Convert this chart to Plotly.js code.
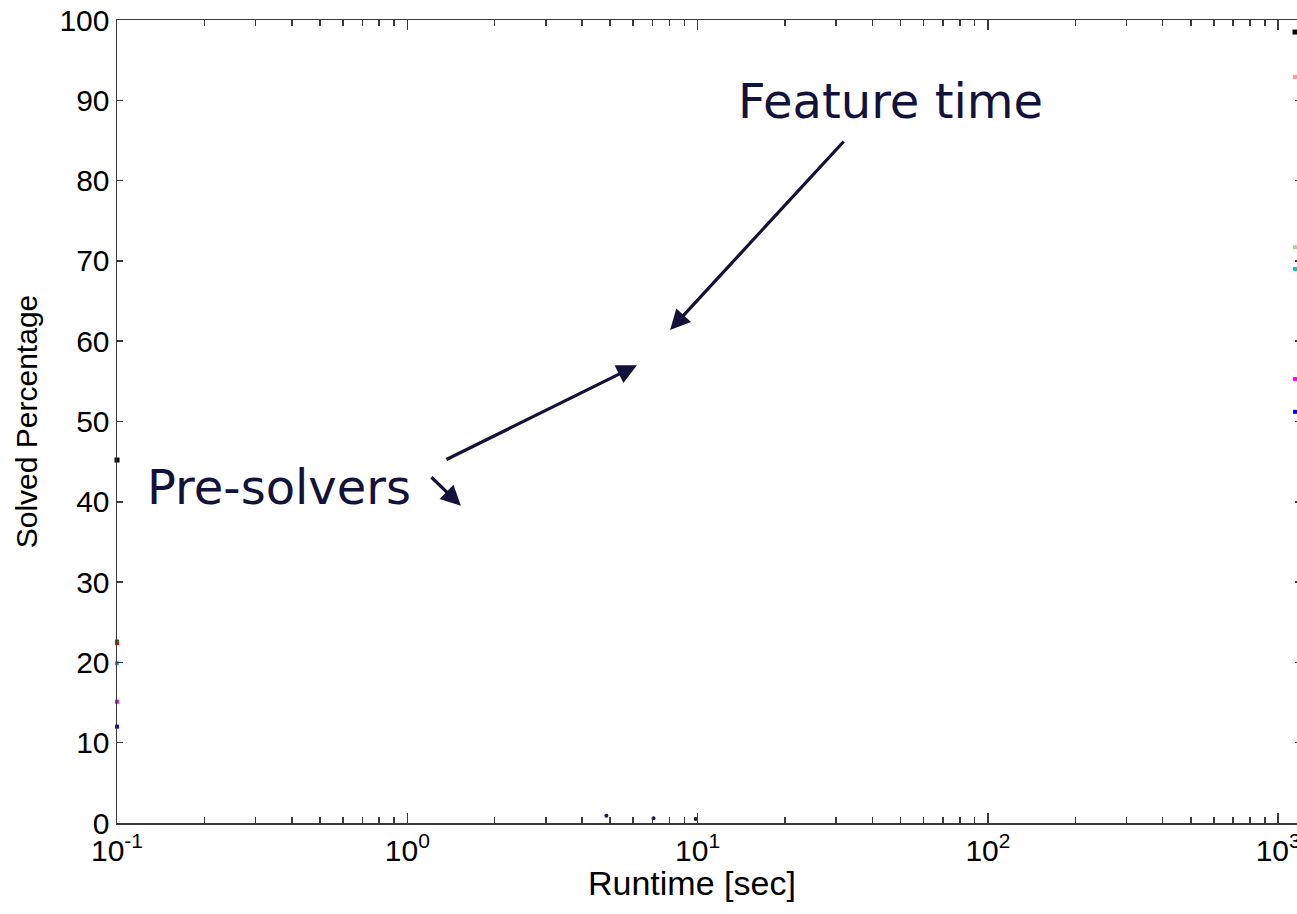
<!DOCTYPE html>
<html>
<head>
<meta charset="utf-8">
<script src="https://cdn.plot.ly/plotly-3.0.1.min.js"></script>
<style>
html,body{margin:0;padding:0;overflow:hidden;background:#fff;}
#chart{width:1306px;height:914px;}
</style>
</head>
<body>
<div id="chart"></div>
<script>
// ---- data ----
const seriesNames  = ["black", "green", "red", "cyan", "magenta", "blue", "pink", "lightgreen"];
const seriesColors = ["#000000", "#008000", "#ff0000", "#00c8c8", "#ff00ff", "#0000ff", "#ff9999", "#99d699"];
// value at the start of the runtime axis (0.1 s)
const startTime = 0.1;
const startValues = [45.2, 22.6, 22.4, 19.9, 15.1, 12.0, null, null];
// value at the end of the runtime axis (cut off at the right edge)
const endTime = 1143;
const endValues = [98.5, null, null, 69.0, 55.3, 51.2, 92.9, 71.7];

// small dark dots near the runtime axis
const bottomTimes  = [4.85, 7.05, 9.85];
const bottomUpper  = [0.9, 0.6, 0.5];
const bottomLower  = [-0.45, -0.6, -0.6];

// text labels: [label, x (sec), y (%)]
const featureLabel = ["Feature time", 46, 89.9];
const presolverLabel = ["Pre-solvers", 0.361, 41.8];
// arrows: head x (sec), head y (%), tail offset px (ax, ay)
const arrowHeadX = [8.04, 6.18, 1.53];
const arrowHeadY = [61.4, 57.0, 39.5];
const arrowAx = [175, -192, -31];
const arrowAy = [-190, 95, -30];

const yTicks = [0,10,20,30,40,50,60,70,80,90,100];
const xTickVals = [0.1, 1, 10, 100, 1000];
const xTickText = ["10<sup>-1</sup>", "10<sup>0</sup>", "10<sup>1</sup>", "10<sup>2</sup>", "10<sup>3</sup>"];
const xTitle = "Runtime [sec]";
const yTitle = "Solved Percentage";

const traces = [];
seriesNames.forEach((n, i) => {
  const xs = [], ys = [];
  if (startValues[i] !== null) { xs.push(startTime); ys.push(startValues[i]); }
  if (endValues[i] !== null) { xs.push(endTime); ys.push(endValues[i]); }
  traces.push({
    type: "scatter", mode: "markers", name: n, x: xs, y: ys,
    marker: {symbol: "square", size: i === 0 ? 5 : 4, color: seriesColors[i]},
    cliponaxis: false, hoverinfo: "skip"
  });
});
traces.push({
  type: "scatter", mode: "markers", name: "bottom",
  x: bottomTimes.concat(bottomTimes), y: bottomUpper.concat(bottomLower),
  marker: {symbol: "circle", size: 4, color: "#1a1a48"},
  cliponaxis: false, hoverinfo: "skip"
});

const navy = "#12123a";
const arial = "Liberation Sans, Arial, sans-serif";
const tickFont = {family: arial, size: 30, color: "#000"};
const annFont = {family: "DejaVu Sans, Verdana, sans-serif", size: 48, color: navy};

const annotations = [
  {x: Math.log10(featureLabel[1]), y: featureLabel[2], text: featureLabel[0], showarrow: false, xanchor: "center", yanchor: "middle", font: annFont},
  {x: Math.log10(presolverLabel[1]), y: presolverLabel[2], text: presolverLabel[0], showarrow: false, xanchor: "center", yanchor: "middle", font: annFont},
  {xref: "paper", yref: "paper", x: 0.4856, y: -0.0745, text: xTitle, showarrow: false, xanchor: "center", yanchor: "middle", font: {family: arial, size: 34, color: "#000"}}
];
arrowHeadX.forEach((hx, i) => {
  annotations.push({
    x: Math.log10(hx), y: arrowHeadY[i], ax: arrowAx[i], ay: arrowAy[i],
    text: "", showarrow: true, arrowhead: 2, arrowsize: 1.25, arrowwidth: 3.2, arrowcolor: navy
  });
});

const layout = {
  width: 1306, height: 914,
  margin: {l: 117, r: 5, t: 20, b: 91},
  paper_bgcolor: "#fff", plot_bgcolor: "#fff",
  showlegend: false,
  xaxis: {
    type: "log", range: [-1, 3.0785],
    tickmode: "array", tickvals: xTickVals, ticktext: xTickText,
    ticks: "inside", ticklen: 10, tickwidth: 1.5, tickcolor: "#3a3a3a",
    minor: {ticks: "inside", ticklen: 6, tickwidth: 1.5, tickcolor: "#3a3a3a", dtick: "D1", showgrid: false},
    showline: true, linecolor: "#3a3a3a", linewidth: 1.5, mirror: "ticks",
    showgrid: false, zeroline: false,
    tickfont: tickFont
  },
  yaxis: {
    range: [0, 100], tickmode: "array", tickvals: yTicks,
    ticks: "inside", ticklen: 6, tickwidth: 1.5, tickcolor: "#3a3a3a",
    showline: true, linecolor: "#3a3a3a", linewidth: 1.5, mirror: "ticks",
    showgrid: false, zeroline: false,
    tickfont: tickFont,
    title: {text: yTitle, font: {family: arial, size: 30, color: "#000"}, standoff: 13}
  },
  annotations: annotations
};

Plotly.newPlot("chart", traces, layout, {staticPlot: true, displayModeBar: false});
</script>
</body>
</html>
